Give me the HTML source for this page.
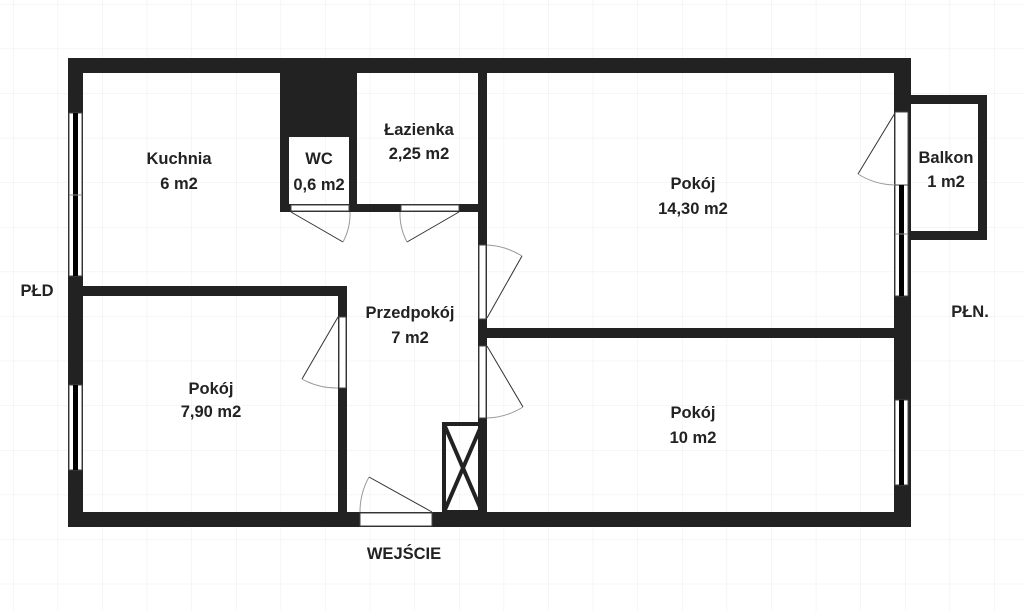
<!DOCTYPE html>
<html><head><meta charset="utf-8"><style>
html,body{margin:0;padding:0;background:#fff;width:1024px;height:611px;overflow:hidden}
text{font-family:"Liberation Sans",sans-serif;font-weight:bold;font-size:16.5px;fill:#222;text-anchor:middle}
</style></head><body>
<svg width="1024" height="611" viewBox="0 0 1024 611" xmlns="http://www.w3.org/2000/svg">
<defs><pattern id="g" x="13" y="4" width="44.6" height="44.6" patternUnits="userSpaceOnUse">
<path d="M0 0H44.6M0 0V44.6" stroke="#ececec" stroke-width="1" fill="none"/></pattern></defs>
<rect width="1024" height="611" fill="url(#g)"/>
<g fill="#222">
<rect x="68" y="58" width="843" height="15"/>
<rect x="68" y="58" width="15" height="469"/>
<rect x="68" y="512" width="843" height="15"/>
<rect x="894" y="58" width="17" height="469"/>
<rect x="280" y="58" width="77" height="79"/>
<rect x="280" y="58" width="9" height="154"/>
<rect x="349" y="58" width="8" height="154"/>
<rect x="280" y="204" width="207" height="8"/>
<rect x="478" y="58" width="9" height="469"/>
<rect x="487" y="328" width="420" height="10"/>
<rect x="68" y="286" width="279" height="10"/>
<rect x="338" y="286" width="9" height="241"/>
<rect x="905" y="95" width="82" height="9"/>
<rect x="978" y="95" width="9" height="145"/>
<rect x="905" y="231" width="82" height="9"/>
</g>
<g fill="#fff" stroke="#444" stroke-width="1">
<rect x="69" y="113" width="13" height="163"/>
<rect x="69" y="385" width="13" height="85"/>
<rect x="895" y="185" width="13" height="111"/>
<rect x="895" y="400" width="13" height="85"/>
<rect x="291" y="205" width="58" height="6"/>
<rect x="401" y="205" width="58" height="6"/>
<rect x="479" y="245" width="7" height="74"/>
<rect x="479" y="346" width="7" height="72"/>
<rect x="339" y="317" width="7" height="71"/>
<rect x="360" y="513" width="72" height="13"/>
<rect x="895" y="112" width="13" height="73"/>
</g>
<g fill="#000">
<rect x="73" y="113" width="5" height="163"/>
<rect x="73" y="385" width="5" height="85"/>
<rect x="899" y="185" width="5" height="111"/>
<rect x="899" y="400" width="5" height="85"/>
</g>
<g stroke="#888" stroke-width="1"><line x1="69" y1="195" x2="82" y2="195"/><line x1="895" y1="234" x2="908" y2="234"/></g>
<g stroke="#222" stroke-width="4" fill="none">
<rect x="444" y="424" width="38" height="88"/>
<line x1="444" y1="424" x2="482" y2="512"/><line x1="482" y1="424" x2="444" y2="512"/>
</g>
<g stroke="#333" stroke-width="1" fill="none">
<path d="M291 212 L343 242"/><path d="M343 242 A60 60 0 0 0 350 212" stroke="#999"/>
<path d="M459 212 L407 242"/><path d="M407 242 A60 60 0 0 1 400 212" stroke="#999"/>
<path d="M487 318 L522 256"/><path d="M522 256 A73 73 0 0 0 487 245" stroke="#999"/>
<path d="M487 346 L523 407"/><path d="M523 407 A72 72 0 0 1 487 418" stroke="#999"/>
<path d="M338 317 L302 379"/><path d="M302 379 A71 71 0 0 0 338 388" stroke="#999"/>
<path d="M432 512 L369 477"/><path d="M369 477 A72 72 0 0 0 360 512" stroke="#999"/>
<path d="M895 113 L858 174"/><path d="M858 174 A72 72 0 0 0 895 185" stroke="#999"/>
</g>
<text x="179" y="164">Kuchnia</text><text x="179" y="189">6 m2</text>
<text x="319" y="164">WC</text><text x="319" y="190">0,6 m2</text>
<text x="419" y="135">Łazienka</text><text x="419" y="159">2,25 m2</text>
<text x="693" y="189">Pokój</text><text x="693" y="214">14,30 m2</text>
<text x="946" y="163">Balkon</text><text x="946" y="187">1 m2</text>
<text x="410" y="318">Przedpokój</text><text x="410" y="343">7 m2</text>
<text x="211" y="394">Pokój</text><text x="211" y="417">7,90 m2</text>
<text x="693" y="418">Pokój</text><text x="693" y="443">10 m2</text>
<text x="37" y="296">PŁD</text>
<text x="970" y="317">PŁN.</text>
<text x="404" y="559">WEJŚCIE</text>
</svg>
</body></html>
